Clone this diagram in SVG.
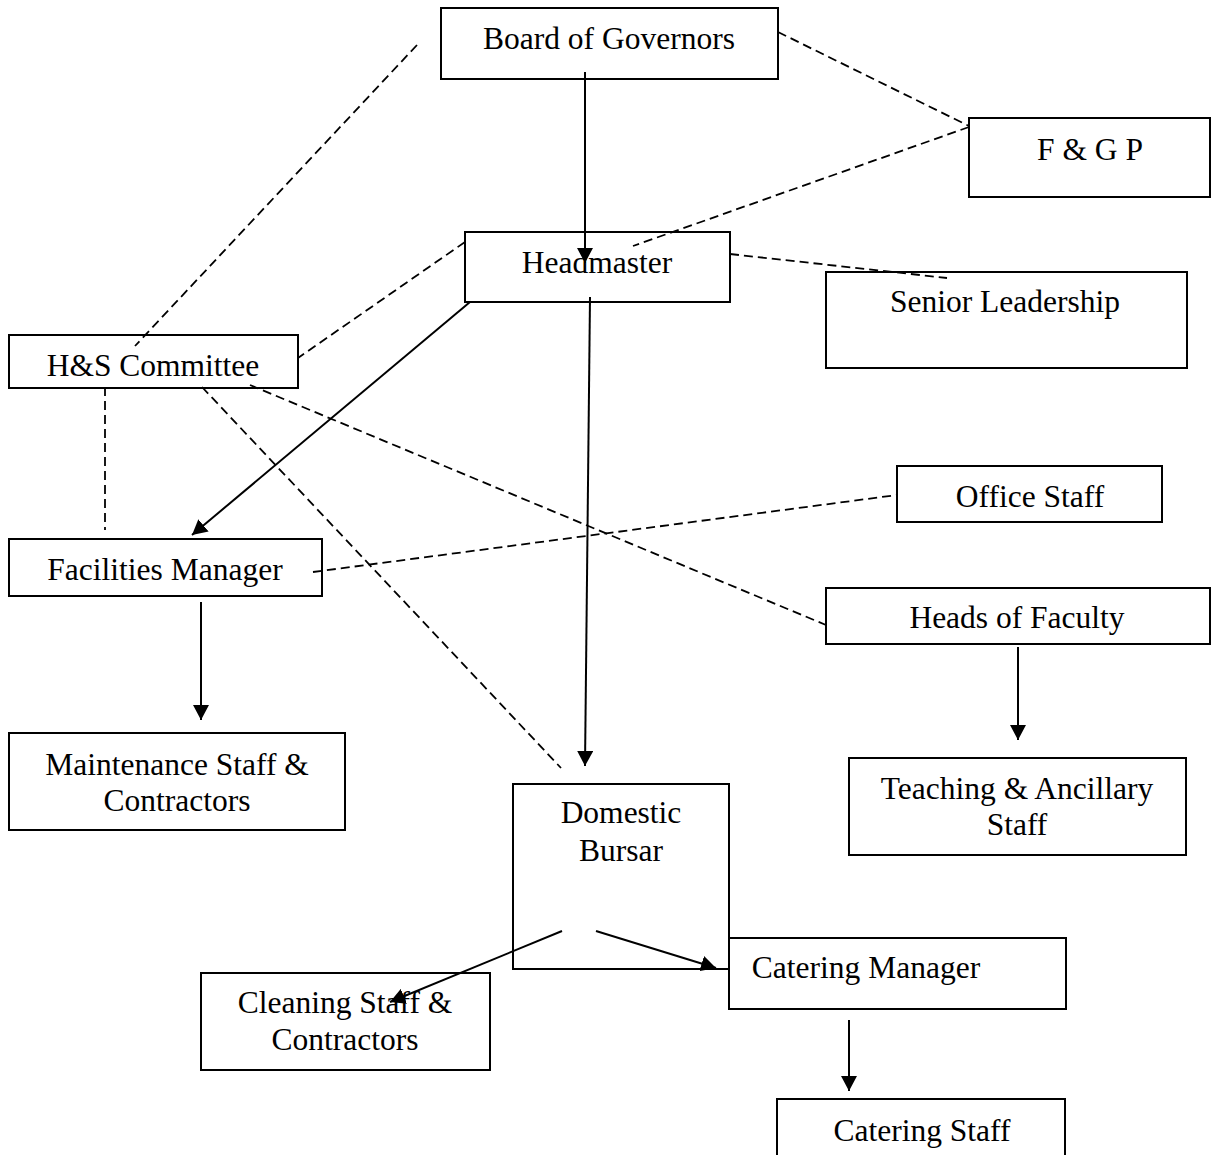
<svg xmlns="http://www.w3.org/2000/svg" width="1211" height="1155" viewBox="0 0 1211 1155">
<style>
.box{fill:#fff;stroke:#000;stroke-width:2}
.t{font-family:"Liberation Serif","Times New Roman",serif;font-size:31.5px;fill:#000;text-anchor:middle}
.d{stroke:#000;stroke-width:1.8;stroke-dasharray:9 5;fill:none}
.s{stroke:#000;stroke-width:2;fill:none;marker-end:url(#ah)}
</style>
<defs>
<marker id="ah" markerWidth="16" markerHeight="16" refX="15" refY="8" orient="auto" markerUnits="userSpaceOnUse">
<path d="M0,0 L15,8 L0,16 Z" fill="#000"/>
</marker>
</defs>
<rect width="1211" height="1155" fill="#fff"/>
<g id="nodes">
<g id="board"><rect class="box" x="441" y="8" width="337" height="71"/><text class="t" x="609" y="49">Board of Governors</text></g>
<g id="fgp"><rect class="box" x="969" y="118" width="241" height="79"/><text class="t" x="1090" y="160">F &amp; G P</text></g>
<g id="head"><rect class="box" x="465" y="232" width="265" height="70"/><text class="t" x="597" y="273">Headmaster</text></g>
<g id="senior"><rect class="box" x="826" y="272" width="361" height="96"/><text class="t" x="1005" y="312">Senior Leadership</text></g>
<g id="hs"><rect class="box" x="9" y="335" width="289" height="53"/><text class="t" x="153" y="376">H&amp;S Committee</text></g>
<g id="office"><rect class="box" x="897" y="466" width="265" height="56"/><text class="t" x="1030" y="507">Office Staff</text></g>
<g id="facilities"><rect class="box" x="9" y="539" width="313" height="57"/><text class="t" x="165" y="580">Facilities Manager</text></g>
<g id="faculty"><rect class="box" x="826" y="588" width="384" height="56"/><text class="t" x="1017" y="628">Heads of Faculty</text></g>
<g id="maint"><rect class="box" x="9" y="733" width="336" height="97"/><text class="t" x="177" y="775">Maintenance Staff &amp;</text><text class="t" x="177" y="811">Contractors</text></g>
<g id="teaching"><rect class="box" x="849" y="758" width="337" height="97"/><text class="t" x="1017" y="799">Teaching &amp; Ancillary</text><text class="t" x="1017" y="835">Staff</text></g>
<g id="bursar"><rect class="box" x="513" y="784" width="216" height="185"/><text class="t" x="621" y="823">Domestic</text><text class="t" x="621" y="861">Bursar</text></g>
<g id="catmgr"><rect class="box" x="729" y="938" width="337" height="71"/><text class="t" x="866" y="978">Catering Manager</text></g>
<g id="cleaning"><rect class="box" x="201" y="973" width="289" height="97"/><text class="t" x="345" y="1013">Cleaning Staff &amp;</text><text class="t" x="345" y="1050">Contractors</text></g>
<g id="catstaff"><rect class="box" x="777" y="1099" width="288" height="70"/><text class="t" x="922" y="1141">Catering Staff</text></g>
</g>
<g id="connectors">
<line class="d" x1="778" y1="32" x2="969" y2="126"/>
<line class="d" x1="969" y1="127" x2="633" y2="246"/>
<line class="d" x1="730" y1="254" x2="947" y2="278"/>
<line class="d" x1="465" y1="242" x2="298" y2="358"/>
<line class="d" x1="417" y1="45" x2="135" y2="346"/>
<line class="d" x1="105" y1="387" x2="105" y2="530"/>
<line class="d" x1="202" y1="387" x2="561" y2="768"/>
<line class="d" x1="250" y1="385" x2="826" y2="625"/>
<line class="d" x1="313" y1="572" x2="897" y2="495"/>
<line class="s" x1="585" y1="72" x2="585" y2="263"/>
<line class="s" x1="470" y1="302" x2="192" y2="535"/>
<line class="s" x1="590" y1="297" x2="585" y2="766"/>
<line class="s" x1="201" y1="602" x2="201" y2="720"/>
<line class="s" x1="1018" y1="647" x2="1018" y2="740"/>
<line class="s" x1="562" y1="931" x2="390" y2="1002"/>
<line class="s" x1="596" y1="931" x2="716" y2="968"/>
<line class="s" x1="849" y1="1020" x2="849" y2="1091"/>
</g>
</svg>
